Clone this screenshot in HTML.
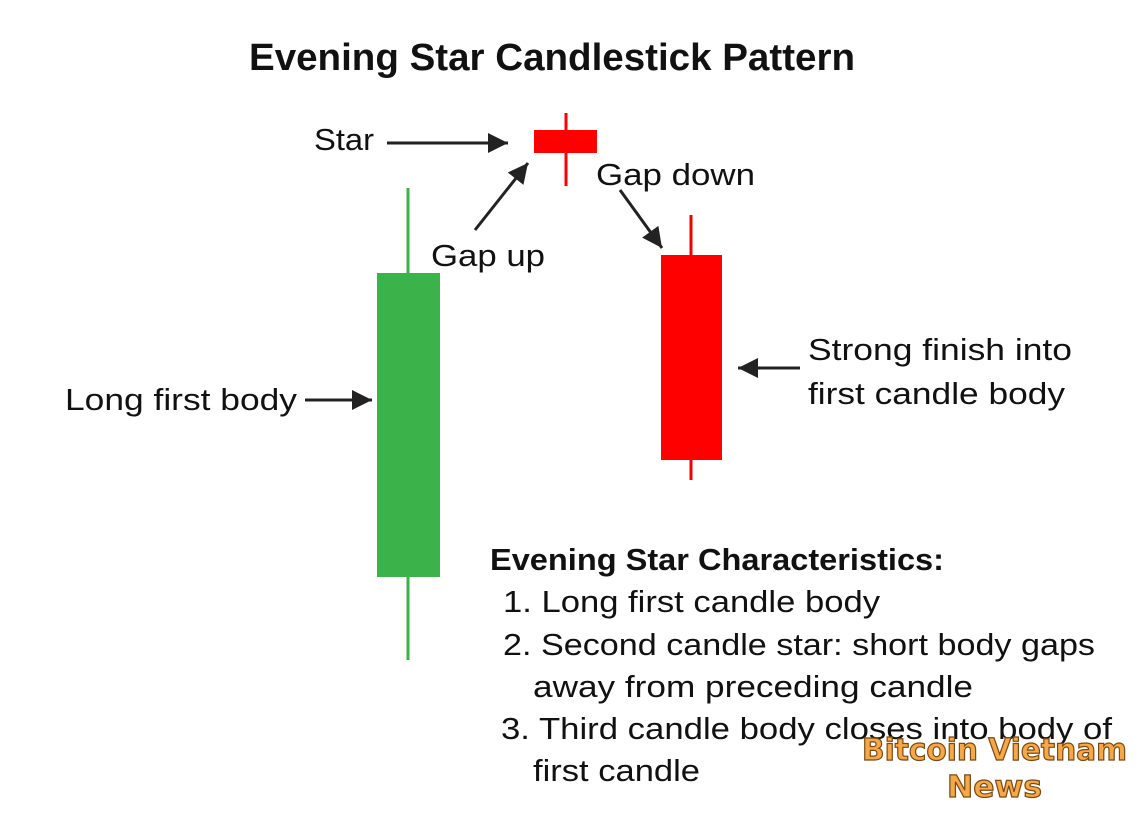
<!DOCTYPE html>
<html><head><meta charset="utf-8"><style>html,body{margin:0;padding:0;background:#fff}svg{display:block}</style></head>
<body>
<svg width="1140" height="820" viewBox="0 0 1140 820" xmlns="http://www.w3.org/2000/svg" font-family="Liberation Sans, sans-serif">
<defs><marker id="a" viewBox="0 0 10 10" refX="10" refY="5" markerWidth="22" markerHeight="20" markerUnits="userSpaceOnUse" orient="auto"><path d="M0,0L10,5L0,10z" fill="#222"/></marker></defs>
<g fill="#111">
<text x="249" y="70" font-size="38" font-weight="bold" textLength="606" lengthAdjust="spacingAndGlyphs">Evening Star Candlestick Pattern</text>
<text x="314" y="150" font-size="31" textLength="60" lengthAdjust="spacingAndGlyphs">Star</text>
<text x="596" y="185" font-size="31" textLength="159" lengthAdjust="spacingAndGlyphs">Gap down</text>
<text x="431" y="266" font-size="31" textLength="114" lengthAdjust="spacingAndGlyphs">Gap up</text>
<text x="65" y="410" font-size="31" textLength="232" lengthAdjust="spacingAndGlyphs">Long first body</text>
<text x="808" y="360" font-size="31" textLength="264" lengthAdjust="spacingAndGlyphs">Strong finish into</text>
<text x="808" y="404" font-size="31" textLength="257" lengthAdjust="spacingAndGlyphs">first candle body</text>
<text x="490" y="570" font-size="31" font-weight="bold" textLength="454" lengthAdjust="spacingAndGlyphs">Evening Star Characteristics:</text>
<text x="503" y="612" font-size="31" textLength="377" lengthAdjust="spacingAndGlyphs">1. Long first candle body</text>
<text x="503" y="655" font-size="31" textLength="592" lengthAdjust="spacingAndGlyphs">2. Second candle star: short body gaps</text>
<text x="533" y="697" font-size="31" textLength="440" lengthAdjust="spacingAndGlyphs">away from preceding candle</text>
<text x="501" y="739" font-size="31" textLength="611" lengthAdjust="spacingAndGlyphs">3. Third candle body closes into body of</text>
<text x="533" y="781" font-size="31" textLength="167" lengthAdjust="spacingAndGlyphs">first candle</text>
</g>
<line x1="408" y1="188" x2="408" y2="660" stroke="#3bb34a" stroke-width="3"/>
<rect x="377" y="273" width="63" height="304" fill="#3bb34a"/>
<line x1="566" y1="113" x2="566" y2="186" stroke="#f00" stroke-width="3"/>
<rect x="534" y="130" width="63" height="23" fill="#f00"/>
<line x1="691" y1="215" x2="691" y2="480" stroke="#e00" stroke-width="3"/>
<rect x="661" y="255" width="61" height="205" fill="#f00"/>
<g stroke="#222" stroke-width="3" marker-end="url(#a)">
<line x1="387" y1="143" x2="508" y2="143"/>
<line x1="475" y1="230" x2="528" y2="163"/>
<line x1="620" y1="190" x2="662" y2="248"/>
<line x1="305" y1="400" x2="372" y2="400"/>
<line x1="800" y1="368" x2="738" y2="368"/>
</g>
<g font-weight="bold" fill="#f5a84a" stroke="#7a4a10" stroke-width="1.2" font-size="30" font-family="DejaVu Sans, sans-serif">
<text x="862" y="760" textLength="265" lengthAdjust="spacingAndGlyphs">Bitcoin Vietnam</text>
<text x="947" y="797" textLength="95" lengthAdjust="spacingAndGlyphs">News</text>
</g>
</svg>
</body></html>
